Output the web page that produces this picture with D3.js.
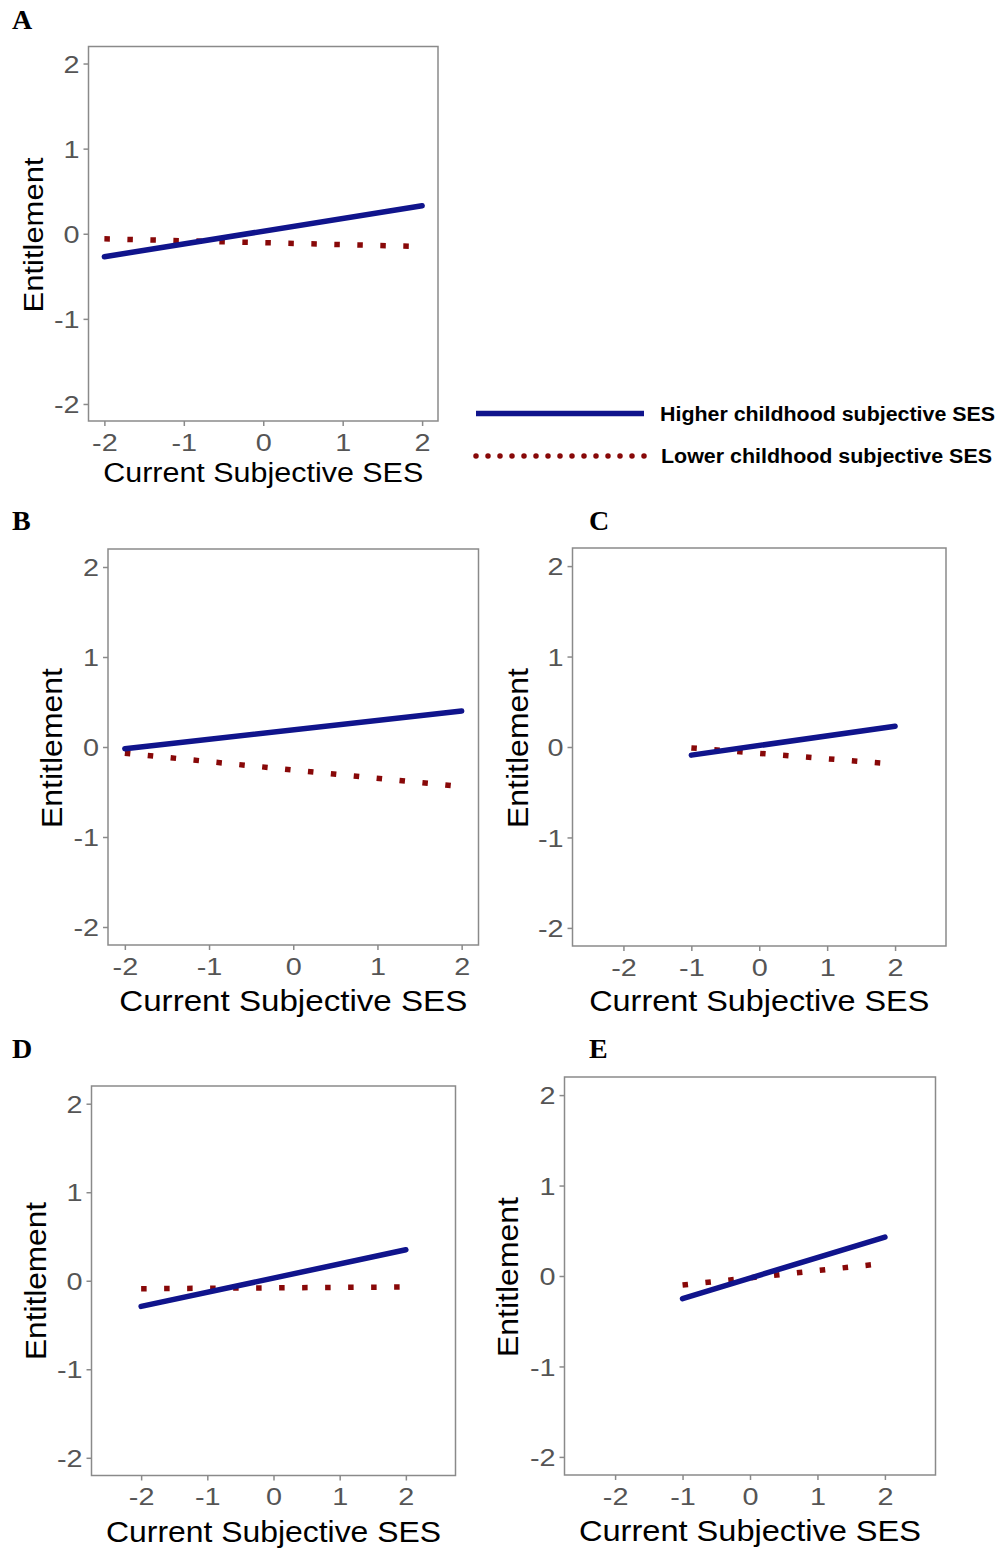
<!DOCTYPE html>
<html>
<head>
<meta charset="utf-8">
<script src="https://cdn.jsdelivr.net/npm/d3@7"></script>
<style>
  body { margin: 0; background: #fff; }
  svg { display: block; }
</style>
</head>
<body>
<script>
const width = 999;
const height = 1549;

// data
const panelIds = ["A", "B", "C", "D", "E"];
const xTicks = [-2, -1, 0, 1, 2];
const yTicks = [-2, -1, 0, 1, 2];
const yDomain = [-2.2, 2.2];
const xDomains = [[-2.2, 2.2], [-2.2, 2.2], [-2.75, 2.75], [-2.75, 2.75], [-2.75, 2.75]];
const higherX = [[-2, 2], [-2, 2], [-1, 2], [-2, 2], [-1, 2]];
const higherY = [[-0.27, 0.33], [-0.02, 0.40], [-0.09, 0.23], [-0.29, 0.35], [-0.25, 0.43]];
const lowerX = [[-2, 2], [-2, 2], [-1, 2], [-2, 2], [-1, 2]];
const lowerY = [[-0.06, -0.15], [-0.07, -0.44], [-0.01, -0.19], [-0.09, -0.07], [-0.10, 0.14]];
const legendLabels = ["Higher childhood subjective SES", "Lower childhood subjective SES"];
const xTitle = "Current Subjective SES";
const yTitle = "Entitlement";

// layout of each panel (pixel boxes)
const layout = [
  {left: 88.5, top: 46.5, right: 438, bottom: 421, lx: 12, ly: 28.5, fs: 27, xtLen: 320, xtOff: 61, ytX: 43, ytY: 235, ytLen: 155},
  {left: 108, top: 549, right: 478.5, bottom: 945, lx: 12, ly: 530, fs: 29, xtLen: 348, xtOff: 66, ytX: 62, ytY: 748, ytLen: 160},
  {left: 572.5, top: 548, right: 946, bottom: 946, lx: 589, ly: 529.5, fs: 29, xtLen: 340, xtOff: 65, ytX: 528, ytY: 748, ytLen: 160},
  {left: 91.5, top: 1086, right: 455.5, bottom: 1475.5, lx: 12, ly: 1058, fs: 29, xtLen: 335, xtOff: 66, ytX: 46, ytY: 1281, ytLen: 158},
  {left: 564.5, top: 1077, right: 935.5, bottom: 1475, lx: 589, ly: 1058, fs: 29, xtLen: 342, xtOff: 66, ytX: 518, ytY: 1277, ytLen: 160}
];

const blue = "#10148c";
const red = "#880808";
const grey = "#8a8a8a";
const sans = "'Liberation Sans', Arial, sans-serif";

var svg = d3.select("body").append("svg")
  .attr("width", width)
  .attr("height", height);

panelIds.forEach((id, i) => {
  const p = layout[i];
  var xScale = d3.scaleLinear().domain(xDomains[i]).range([p.left, p.right]);
  var yScale = d3.scaleLinear().domain(yDomain).range([p.bottom, p.top]);
  var g = svg.append("g").attr("class", "panel");

  // panel letter
  g.append("text")
    .attr("x", p.lx).attr("y", p.ly)
    .style("font-family", "'Liberation Serif', 'Times New Roman', serif")
    .style("font-weight", "bold")
    .style("font-size", "28px")
    .text(id);

  // border
  g.append("rect")
    .attr("x", p.left).attr("y", p.top)
    .attr("width", p.right - p.left).attr("height", p.bottom - p.top)
    .attr("fill", "none").attr("stroke", grey).attr("stroke-width", 1.5);

  // x axis
  var xAxis = d3.axisBottom(xScale).tickValues(xTicks).tickSize(5).tickFormat(d => String(d));
  var gx = g.append("g").attr("transform", "translate(0," + p.bottom + ")").call(xAxis);
  gx.select(".domain").remove();
  gx.selectAll(".tick line").attr("stroke", grey).attr("stroke-width", 1.5);
  gx.selectAll(".tick text")
    .attr("y", 30).attr("dy", null)
    .attr("transform", "scale(1.2,1)")
    .attr("fill", "#555")
    .style("font-family", sans).style("font-size", "24px");

  // y axis
  var yAxis = d3.axisLeft(yScale).tickValues(yTicks).tickSize(5).tickFormat(d => String(d));
  var gy = g.append("g").attr("transform", "translate(" + p.left + ",0)").call(yAxis);
  gy.select(".domain").remove();
  gy.selectAll(".tick line").attr("stroke", grey).attr("stroke-width", 1.5);
  gy.selectAll(".tick text")
    .attr("x", -7.5).attr("dy", "0.36em")
    .attr("transform", "scale(1.2,1)")
    .attr("fill", "#555")
    .style("font-family", sans).style("font-size", "24px");

  // axis titles
  g.append("text")
    .attr("x", (p.left + p.right) / 2).attr("y", p.bottom + p.xtOff)
    .attr("text-anchor", "middle")
    .attr("textLength", p.xtLen).attr("lengthAdjust", "spacingAndGlyphs")
    .style("font-family", sans).style("font-size", p.fs + "px")
    .attr("fill", "#000")
    .text(xTitle);

  g.append("text")
    .attr("transform", "translate(" + p.ytX + "," + p.ytY + ") rotate(-90)")
    .attr("text-anchor", "middle")
    .attr("textLength", p.ytLen).attr("lengthAdjust", "spacingAndGlyphs")
    .style("font-family", sans).style("font-size", p.fs + "px")
    .attr("fill", "#000")
    .text(yTitle);

  var line = d3.line().x(d => xScale(d[0])).y(d => yScale(d[1]));

  // lower childhood SES (dotted)
  g.append("path")
    .datum(d3.zip(lowerX[i], lowerY[i]))
    .attr("d", line)
    .attr("fill", "none")
    .attr("stroke", red)
    .attr("stroke-width", 5.5)
    .attr("stroke-dasharray", "5.5,17.5");

  // higher childhood SES (solid)
  g.append("path")
    .datum(d3.zip(higherX[i], higherY[i]))
    .attr("d", line)
    .attr("fill", "none")
    .attr("stroke", blue)
    .attr("stroke-width", 5.5)
    .attr("stroke-linecap", "round");
});

// legend
var legend = svg.append("g").attr("class", "legend");
var legendY = [413.5, 456];
legendLabels.forEach((label, i) => {
  legend.append("line")
    .attr("x1", 476).attr("x2", i === 0 ? 644 : 645)
    .attr("y1", legendY[i]).attr("y2", legendY[i])
    .attr("stroke", i === 0 ? blue : red)
    .attr("stroke-width", 5.5)
    .attr("stroke-linecap", i === 0 ? "butt" : "round")
    .attr("stroke-dasharray", i === 0 ? null : "0,12");
  legend.append("text")
    .attr("x", i === 0 ? 660 : 661).attr("y", legendY[i] + 7)
    .attr("textLength", i === 0 ? 335 : 331).attr("lengthAdjust", "spacingAndGlyphs")
    .style("font-family", sans).style("font-weight", "bold").style("font-size", "20px")
    .attr("fill", "#000")
    .text(label);
});
</script>
</body>
</html>
